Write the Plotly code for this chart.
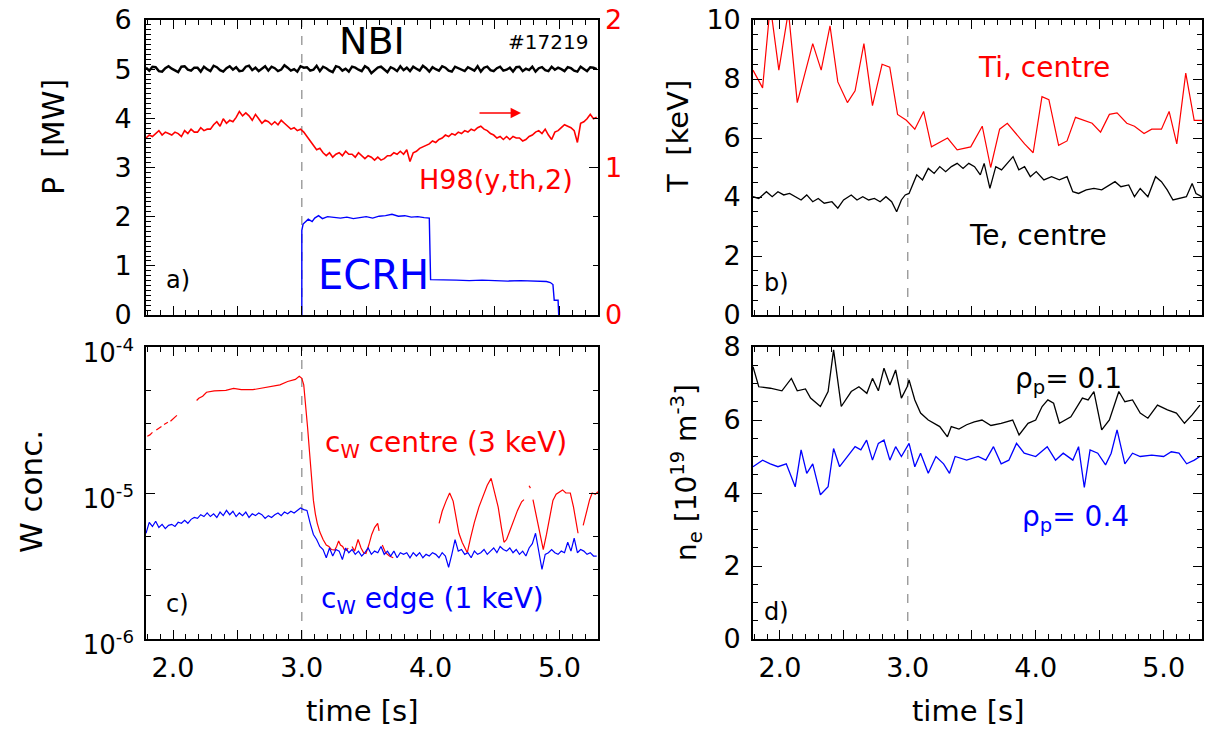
import plotly.graph_objects as go

# ---------------- data ----------------
# common 25 ms time base (sampling grid)
T25 = [round(1.79 + 0.025 * i, 3) for i in range(141)]

nbi_mw = [
    5.03, 4.97, 5.05, 5.04, 4.96, 4.95, 5.02, 5.06, 5.01, 4.97,
    4.94, 5.05, 5.06, 4.99, 4.97, 5.03, 5.03, 4.95, 5.05, 5.00,
    4.96, 5.07, 5.04, 4.98, 4.95, 5.02, 5.06, 4.99, 5.04, 4.96,
    4.97, 5.05, 5.07, 4.98, 5.03, 4.96, 5.01, 5.06, 4.97, 5.05,
    5.02, 4.96, 4.99, 5.08, 5.03, 4.97, 5.00, 4.95, 5.06, 5.03,
    5.04, 4.97, 4.99, 5.07, 4.96, 5.05, 5.02, 4.97, 4.94, 5.06,
    5.04, 4.97, 5.01, 4.95, 5.05, 5.03, 4.99, 4.96, 5.06, 5.02,
    4.92, 4.97, 5.03, 5.05, 4.99, 4.94, 5.04, 5.01, 4.96, 5.06,
    4.98, 5.03, 4.96, 5.05, 5.01, 4.97, 5.07, 5.02, 4.95, 5.04,
    5.00, 4.97, 5.06, 5.03, 4.97, 4.95, 5.05, 5.02, 4.98, 4.96,
    5.04, 5.01, 4.97, 5.06, 4.95, 5.03, 5.05, 4.98, 4.96, 5.02,
    5.05, 4.97, 4.99, 5.03, 4.95, 5.04, 5.05, 4.96, 5.01, 4.98,
    5.05, 4.95, 5.02, 5.04, 4.98, 4.96, 5.05, 4.99, 5.03, 5.00,
    4.96, 5.04, 5.02, 4.97, 4.95, 5.05, 5.01, 4.96, 5.04, 5.03,
    5.00]

h98 = [
    1.20, 1.22, 1.21, 1.23, 1.25, 1.22, 1.24, 1.23, 1.22, 1.24, 1.23, 1.21,
    1.25, 1.23, 1.26, 1.24, 1.24, 1.27, 1.25, 1.26, 1.26, 1.29, 1.31, 1.28,
    1.33, 1.30, 1.32, 1.31, 1.34, 1.38, 1.35, 1.37, 1.35, 1.32, 1.36, 1.33,
    1.30, 1.32, 1.31, 1.29, 1.31, 1.29, 1.32, 1.30, 1.28, 1.26, 1.27, 1.25,
    1.26, 1.24, 1.21, 1.18, 1.15, 1.12, 1.13, 1.10, 1.08, 1.10, 1.07, 1.09,
    1.10, 1.08, 1.11, 1.09, 1.09, 1.07, 1.10, 1.08, 1.06, 1.08, 1.07, 1.05,
    1.07, 1.05, 1.06, 1.08, 1.08, 1.10, 1.09, 1.11, 1.09, 1.12, 1.04, 1.10,
    1.11, 1.13, 1.14, 1.15, 1.16, 1.18, 1.17, 1.19, 1.20, 1.22, 1.21, 1.23,
    1.22, 1.24, 1.23, 1.25, 1.24, 1.26, 1.25, 1.27, 1.28, 1.26, 1.25, 1.23,
    1.22, 1.20, 1.21, 1.19, 1.21, 1.19, 1.21, 1.20, 1.20, 1.18, 1.19, 1.21,
    1.22, 1.24, 1.25, 1.23, 1.26, 1.22, 1.19, 1.24, 1.25, 1.27, 1.29, 1.28,
    1.27, 1.25, 1.17, 1.30, 1.31, 1.33, 1.36, 1.33, 1.34]

t_ecrh = [3.0, 3.0, 3.01, 3.03, 3.05, 3.08, 3.1, 3.13, 3.16, 3.2, 3.25, 3.3,
          3.35, 3.4, 3.45, 3.5, 3.55, 3.6, 3.65, 3.7, 3.75, 3.8, 3.85, 3.9,
          3.95, 3.99, 4.0, 4.05, 4.1, 4.2, 4.3, 4.4, 4.5, 4.6, 4.7, 4.8,
          4.85, 4.9, 4.93, 4.95, 4.96, 4.99, 4.995, 5.0]
p_ecrh = [0.0, 1.72, 1.85, 1.90, 1.95, 1.90, 1.97, 2.02, 1.96, 2.00, 1.98, 1.97,
          1.99, 1.96, 1.98, 2.00, 1.97, 2.01, 2.02, 2.05, 2.01, 2.02, 1.99, 2.00,
          1.98, 1.97, 0.72, 0.72, 0.71, 0.71, 0.70, 0.71, 0.70, 0.69, 0.70, 0.69,
          0.68, 0.68, 0.66, 0.62, 0.30, 0.30, 0.0, 0.0]

t_ti = [1.79, 1.865, 1.925, 1.992, 2.067, 2.136, 2.257, 2.323, 2.392, 2.453,
        2.528, 2.588, 2.657, 2.724, 2.799, 2.859, 2.920, 2.989, 3.055, 3.124,
        3.185, 3.311, 3.386, 3.492, 3.582, 3.648, 3.718, 3.778, 3.913, 3.980,
        4.049, 4.103, 4.179, 4.245, 4.311, 4.441, 4.507, 4.576, 4.636, 4.712,
        4.772, 4.847, 4.907, 4.983, 5.043, 5.103, 5.173, 5.239, 5.299]
ti_kev = [8.3, 7.7, 10.5, 8.3, 10.3, 7.2, 9.2, 8.3, 9.8, 7.9,
          7.2, 7.6, 9.2, 7.1, 8.5, 8.4, 6.8, 6.6, 6.3, 6.9,
          5.7, 6.0, 5.6, 5.7, 6.4, 5.0, 6.3, 6.5, 5.8, 5.5,
          7.4, 7.3, 5.75, 5.9, 6.7, 6.5, 6.2, 6.8, 6.85, 6.5,
          6.4, 6.15, 6.3, 6.3, 6.9, 5.8, 8.2, 6.6, 6.6]

t_te = [1.79, 1.835, 1.895, 1.94, 1.985, 2.03, 2.076, 2.12, 2.166, 2.21,
        2.257, 2.3, 2.347, 2.407, 2.453, 2.498, 2.558, 2.603, 2.648, 2.694,
        2.739, 2.784, 2.829, 2.874, 2.913, 2.95, 2.98, 3.01, 3.04, 3.07,
        3.115, 3.16, 3.206, 3.25, 3.296, 3.341, 3.386, 3.432, 3.477, 3.522,
        3.567, 3.597, 3.642, 3.688, 3.733, 3.778, 3.823, 3.868, 3.913, 3.958,
        4.004, 4.064, 4.124, 4.185, 4.245, 4.29, 4.335, 4.395, 4.455, 4.516,
        4.576, 4.62, 4.666, 4.727, 4.772, 4.817, 4.877, 4.937, 4.983, 5.028,
        5.073, 5.118, 5.178, 5.223, 5.253, 5.299]
te_kev = [4.01, 3.95, 4.18, 4.01, 4.18, 4.07, 4.12, 4.01, 3.90, 4.07,
          3.84, 3.95, 3.79, 3.84, 3.62, 3.90, 4.07, 3.90, 4.01, 3.90,
          3.95, 3.84, 4.01, 3.84, 3.50, 3.90, 4.07, 4.12, 4.46, 4.75,
          4.58, 4.97, 4.80, 5.03, 4.86, 5.03, 5.14, 4.97, 5.14, 5.03,
          4.75, 5.14, 4.29, 5.03, 4.92, 5.14, 5.37, 4.92, 5.03, 4.69,
          4.86, 4.58, 4.69, 4.58, 4.69, 4.18, 4.12, 4.24, 4.29, 4.24,
          4.41, 4.52, 4.35, 4.41, 4.01, 4.29, 4.01, 4.69, 4.52, 4.24,
          3.90, 3.95, 4.01, 4.46, 4.12, 4.01]

# W concentration, centre (None = no data)
t_cw_c = [1.80, 1.82, 1.84, None,
          1.87, 1.89, 1.91, None,
          1.93, 1.945, 1.96, None,
          1.98, 2.005, 2.03, None,
          2.183, 2.20, 2.23, 2.26, 2.32, 2.41, 2.47, 2.53, 2.62, 2.71, 2.77,
          2.83, 2.89, 2.95, 2.98,
          3.0, 3.015, 3.03, 3.045, 3.06, 3.075, 3.09, 3.105, 3.12, 3.14, 3.165,
          3.19, 3.21, 3.23, 3.256, 3.27, 3.286, 3.30, 3.317, 3.33, 3.347, 3.36, None,
          3.39, 3.41, 3.437, 3.46, 3.48, 3.498, 3.52, 3.543, 3.565, 3.589, 3.60, None,
          3.625, 3.65, 3.68, 3.71, None,
          4.066, 4.09, 4.12, 4.148, 4.175, 4.20, 4.22, 4.245, 4.27, 4.285, 4.31,
          4.34, 4.375, 4.41, 4.44, 4.47, 4.50, 4.525, 4.55, 4.57, 4.59, 4.62,
          4.645, 4.675, 4.707, 4.725, None,
          4.765, 4.775, None,
          4.795, 4.82, 4.845, 4.875, 4.90, 4.925, 4.95, 4.975, 5.0, 5.025, 5.05,
          5.085, 5.11, 5.13, 5.145, None,
          5.185, 5.21, 5.235, 5.255, 5.28, 5.30]
cw_c = [2.45e-5, 2.5e-5, 2.6e-5, None,
        2.7e-5, 2.78e-5, 2.85e-5, None,
        2.95e-5, 3.0e-5, 3.05e-5, None,
        3.1e-5, 3.25e-5, 3.4e-5, None,
        4.3e-5, 4.45e-5, 4.6e-5, 4.9e-5, 5.0e-5, 5.05e-5, 5.2e-5, 5.1e-5, 5.1e-5, 5.25e-5, 5.4e-5,
        5.5e-5, 5.8e-5, 6.0e-5, 6.3e-5,
        6.1e-5, 5.5e-5, 4.1e-5, 2.8e-5, 1.9e-5, 1.25e-5, 8.9e-6, 7.2e-6, 6.2e-6, 5.4e-6, 4.8e-6,
        4.4e-6, 4.3e-6, 4.1e-6, 4.07e-6, 4.3e-6, 4.7e-6, 4.4e-6, 4.3e-6, 4.1e-6, 4.05e-6, 4.2e-6, None,
        4.3e-6, 4.0e-6, 4.8e-6, 4.2e-6, 3.9e-6, 3.85e-6, 4.4e-6, 5.2e-6, 5.8e-6, 6.2e-6, 5.5e-6, None,
        4.4e-6, 3.9e-6, 3.7e-6, 3.6e-6, None,
        6.2e-6, 7.5e-6, 8.8e-6, 1.0e-5, 8.8e-6, 6.8e-6, 5.3e-6, 4.6e-6, 4.1e-6, 3.9e-6, 4.9e-6,
        6.3e-6, 8.0e-6, 9.8e-6, 1.13e-5, 1.26e-5, 1.0e-5, 8.0e-6, 5.8e-6, 4.6e-6, 4.8e-6, 5.7e-6,
        6.5e-6, 7.6e-6, 8.7e-6, 9.0e-6, None,
        1.12e-5, 1.08e-5, None,
        9.0e-6, 7.0e-6, 5.4e-6, 4.1e-6, 5.2e-6, 6.8e-6, 8.9e-6, 9.8e-6, 1.02e-5, 1.05e-5, 1.0e-5,
        1.0e-5, 8.0e-6, 6.3e-6, 5.3e-6, None,
        6.0e-6, 7.4e-6, 9.0e-6, 1.0e-5, 9.8e-6, 1.02e-5]

# W concentration, edge (units of 1e-6, on the 25 ms grid)
cw_e_1e6 = [
    5.3, 6.3, 5.9, 6.4, 5.8, 6.1, 5.7, 6.0, 6.1, 5.9, 6.3, 6.2,
    6.5, 6.2, 6.6, 6.8, 6.7, 7.1, 6.9, 7.3, 6.9, 7.2, 6.8, 7.4,
    7.0, 7.6, 7.1, 7.5, 6.9, 7.3, 7.0, 7.4, 6.8, 7.2, 7.0, 7.3,
    7.1, 6.7, 7.0, 6.8, 7.1, 7.3, 7.0, 7.4, 7.2, 7.5, 7.3, 7.6,
    7.9, 7.7, 7.6, 6.2, 5.2, 4.8, 4.3, 4.1, 3.6, 4.2, 3.7, 4.1,
    4.0, 3.5, 4.2, 3.9, 4.1, 3.8, 4.0, 3.7, 3.9, 4.2, 3.8, 4.0,
    3.9, 4.3, 3.8, 4.0, 3.7, 4.0, 3.6, 3.9, 3.8, 3.9, 3.6, 3.9,
    3.7, 3.9, 3.6, 3.8, 3.7, 3.9, 3.8, 3.6, 3.9, 3.7, 3.1, 3.8,
    4.8, 4.0, 4.1, 3.8, 3.9, 3.6, 4.0, 3.8, 3.9, 4.1, 3.8, 4.0,
    4.2, 3.9, 4.3, 4.1, 4.0, 4.2, 3.9, 4.1, 3.8, 4.0, 3.7, 4.2,
    4.5, 5.3, 3.9, 3.0, 3.8, 3.9, 4.1, 3.9, 3.8, 4.0, 3.9, 4.6,
    4.0, 4.9, 3.9, 4.1, 4.0, 3.8, 3.9, 3.7, 3.7]

t_ne1 = [1.79, 1.835, 1.925, 2.016, 2.09, 2.136, 2.20, 2.24, 2.317, 2.377,
         2.42, 2.48, 2.558, 2.618, 2.68, 2.724, 2.77, 2.814, 2.86, 2.905,
         2.95, 2.995, 3.01, 3.055, 3.10, 3.16, 3.25, 3.31, 3.34, 3.40,
         3.46, 3.52, 3.58, 3.65, 3.73, 3.82, 3.87, 3.94, 4.00, 4.05,
         4.095, 4.14, 4.185, 4.275, 4.365, 4.41, 4.455, 4.516, 4.576, 4.65,
         4.697, 4.757, 4.817, 4.877, 4.952, 5.03, 5.10, 5.163, 5.223, 5.284]
ne1 = [7.46, 6.91, 6.87, 6.80, 7.14, 6.80, 6.85, 6.60, 6.37, 6.78,
       7.92, 6.37, 6.78, 6.91, 6.73, 7.14, 6.80, 7.42, 6.96, 7.37,
       6.60, 6.91, 7.10, 6.55, 6.19, 6.00, 5.82, 5.54, 5.82, 5.75,
       5.87, 5.95, 6.00, 5.85, 5.91, 6.00, 5.59, 5.91, 6.00, 6.37,
       6.55, 6.46, 5.91, 6.09, 6.60, 6.55, 6.78, 5.73, 6.00, 6.78,
       6.50, 6.55, 6.19, 6.05, 6.41, 6.28, 6.19, 5.91, 6.14, 6.41]

t_ne4 = [1.79, 1.865, 1.925, 1.985, 2.05, 2.09, 2.12, 2.166, 2.21, 2.257,
         2.317, 2.377, 2.42, 2.467, 2.528, 2.588, 2.633, 2.678, 2.724, 2.77,
         2.814, 2.86, 2.905, 2.95, 3.01, 3.055, 3.10, 3.16, 3.22, 3.28,
         3.326, 3.37, 3.46, 3.55, 3.61, 3.67, 3.73, 3.79, 3.85, 3.91,
         4.00, 4.09, 4.155, 4.215, 4.29, 4.335, 4.38, 4.425, 4.485, 4.546,
         4.59, 4.636, 4.697, 4.757, 4.817, 4.907, 5.00, 5.06, 5.12, 5.18,
         5.24, 5.284]
ne4 = [4.72, 4.90, 4.80, 4.72, 4.80, 4.45, 4.17, 5.18, 4.54, 4.80,
       3.95, 4.17, 5.22, 4.72, 5.00, 5.27, 5.18, 5.45, 4.90, 5.36,
       5.45, 4.90, 5.27, 5.00, 5.36, 4.72, 5.09, 4.54, 5.00, 4.80,
       4.54, 5.00, 4.90, 5.00, 4.90, 5.27, 4.80, 4.90, 5.36, 5.09,
       5.00, 5.27, 4.90, 5.09, 4.90, 5.27, 4.15, 5.18, 5.09, 4.77,
       5.09, 5.73, 4.80, 5.09, 5.00, 5.04, 5.00, 5.13, 5.09, 4.80,
       4.90, 5.00]

# tick labels
x_major = [2.0, 2.5, 3.0, 3.5, 4.0, 4.5, 5.0]
x_labels = ["2.0", "", "3.0", "", "4.0", "", "5.0"]
log_major = [1e-6, 1e-5, 1e-4]
log_labels = ["10<sup>-6</sup>", "10<sup>-5</sup>", "10<sup>-4</sup>"]
t_switch = 3.0

# ---------------- styling ----------------
W, H = 1207, 731
FONT = "DejaVu Sans"
RED, BLUE, BLACK = "#ff0000", "#0000ff", "#000000"

def px(x):
    return x / W

def py(y):
    return 1 - y / H

XA = [px(146), px(598)]
XB = [px(753), px(1202)]
YT = [py(315), py(20)]
YB = [py(639), py(347)]

x_minor = [round(1.8 + 0.1 * i, 2) for i in range(36)]
x_minor = [v for v in x_minor if round(v * 2, 6) != round(v * 2)]

fig = go.Figure()

# panel a
fig.add_trace(go.Scatter(x=T25, y=nbi_mw, mode="lines", line=dict(color=BLACK, width=2.4),
                         xaxis="x", yaxis="y", showlegend=False))
fig.add_trace(go.Scatter(x=t_ecrh, y=p_ecrh, mode="lines", line=dict(color=BLUE, width=1.4),
                         xaxis="x", yaxis="y", showlegend=False))
fig.add_trace(go.Scatter(x=T25, y=h98, mode="lines", line=dict(color=RED, width=1.6),
                         xaxis="x", yaxis="y2", showlegend=False))
# panel b
fig.add_trace(go.Scatter(x=t_ti, y=ti_kev, mode="lines", line=dict(color=RED, width=1.2),
                         xaxis="x2", yaxis="y3", showlegend=False))
fig.add_trace(go.Scatter(x=t_te, y=te_kev, mode="lines", line=dict(color=BLACK, width=1.3),
                         xaxis="x2", yaxis="y3", showlegend=False))
# panel c
fig.add_trace(go.Scatter(x=t_cw_c, y=cw_c, mode="lines", line=dict(color=RED, width=1.2),
                         connectgaps=False, xaxis="x3", yaxis="y4", showlegend=False))
fig.add_trace(go.Scatter(x=T25, y=[v * 1e-6 for v in cw_e_1e6], mode="lines",
                         line=dict(color=BLUE, width=1.2), xaxis="x3", yaxis="y4", showlegend=False))
# panel d
fig.add_trace(go.Scatter(x=t_ne1, y=ne1, mode="lines", line=dict(color=BLACK, width=1.3),
                         xaxis="x4", yaxis="y5", showlegend=False))
fig.add_trace(go.Scatter(x=t_ne4, y=ne4, mode="lines", line=dict(color=BLUE, width=1.3),
                         xaxis="x4", yaxis="y5", showlegend=False))

tickfont = dict(family=FONT, size=27, color=BLACK)
frame = dict(showline=True, linecolor=BLACK, linewidth=1.6, showgrid=False, zeroline=False,
             ticks="inside", tickcolor=BLACK, tickwidth=1.4, automargin=False)

def xaxis(domain, anchor, labels):
    return dict(frame, domain=domain, anchor=anchor, range=[1.79, 5.30], mirror="ticks",
                tickmode="array", tickvals=x_major, ticktext=x_labels, ticklen=9,
                showticklabels=labels, tickfont=tickfont, ticklabelstandoff=4,
                minor=dict(tickmode="array", tickvals=x_minor, ticklen=5, ticks="inside",
                           tickcolor=BLACK, tickwidth=1.2))

def lin_minor(lo, hi, step):
    n = int(round((hi - lo) / step))
    return [round(lo + step * i, 4) for i in range(n + 1)]

fig.update_layout(
    width=W, height=H, margin=dict(l=0, r=0, t=0, b=0, pad=0), autosize=False,
    paper_bgcolor="white", plot_bgcolor="white",
    font=dict(family=FONT, color=BLACK),
    xaxis=xaxis(XA, "y", False),
    xaxis2=xaxis(XB, "y3", False),
    xaxis3=xaxis(XA, "y4", True),
    xaxis4=xaxis(XB, "y5", True),
    yaxis=dict(frame, domain=YT, anchor="x", range=[0, 6], mirror=True,
               tickmode="array", tickvals=[0, 1, 2, 3, 4, 5, 6], ticklen=9, tickfont=tickfont,
               ticklabelstandoff=7,
               minor=dict(tickmode="array", tickvals=lin_minor(0, 6, 0.1), ticklen=5,
                          ticks="inside", tickcolor=BLACK, tickwidth=1.2)),
    yaxis2=dict(frame, overlaying="y", side="right", anchor="x", range=[0, 2], showline=False,
                tickmode="array", tickvals=[0, 1, 2], ticklen=9, ticklabelstandoff=6,
                tickfont=dict(family=FONT, size=27, color=RED),
                minor=dict(tickmode="array", tickvals=[1 / 3, 2 / 3, 4 / 3, 5 / 3], ticklen=5,
                           ticks="inside", tickcolor=BLACK, tickwidth=1.2)),
    yaxis3=dict(frame, domain=YT, anchor="x2", range=[0, 10], mirror="ticks",
                tickmode="array", tickvals=[0, 2, 4, 6, 8, 10], ticklen=9, tickfont=tickfont,
                ticklabelstandoff=5,
                minor=dict(tickmode="array", tickvals=lin_minor(0, 10, 0.5), ticklen=5,
                           ticks="inside", tickcolor=BLACK, tickwidth=1.2)),
    yaxis4=dict(frame, domain=YB, anchor="x3", type="log", range=[-6, -4], mirror="ticks",
                tickmode="array", tickvals=log_major, ticktext=log_labels, ticklen=9,
                tickfont=dict(family=FONT, size=26, color=BLACK), ticklabelshift=6,
                ticklabelstandoff=5,
                minor=dict(tickmode="array", tickvals=[2e-6, 3e-6, 5e-6, 2e-5, 3e-5, 5e-5],
                           ticklen=5, ticks="inside", tickcolor=BLACK, tickwidth=1.2)),
    yaxis5=dict(frame, domain=YB, anchor="x4", range=[0, 8], mirror="ticks",
                tickmode="array", tickvals=[0, 2, 4, 6, 8], ticklen=9, tickfont=tickfont,
                ticklabelstandoff=5,
                minor=dict(tickmode="array", tickvals=lin_minor(0, 8, 0.5), ticklen=5,
                           ticks="inside", tickcolor=BLACK, tickwidth=1.2)),
)

# dashed switch-off line at t = 3.0 s
for xr, yr in [("x", "y"), ("x2", "y3"), ("x3", "y4"), ("x4", "y5")]:
    fig.add_shape(type="line", xref=xr, yref=yr + " domain", x0=t_switch, x1=t_switch,
                  y0=0, y1=1, line=dict(color="#888888", width=1.2, dash="dash"), layer="below")

def note(text, x, y, size=27, color=BLACK, xanchor="center", angle=0):
    fig.add_annotation(text=text, x=px(x), y=py(y), xref="paper", yref="paper",
                       showarrow=False, xanchor=xanchor, yanchor="middle", textangle=angle,
                       font=dict(family=FONT, size=size, color=color))

note("NBI", 372, 41, size=38)
note("#17219", 548, 42, size=20)
note("H98(y,th,2)", 496, 180, size=27, color=RED)
note("ECRH", 373, 275, size=40, color=BLUE)
note("a)", 178, 280, size=24)
note("Ti, centre", 1044, 68, size=28, color=RED)
note("Te, centre", 1038, 235, size=28)
note("b)", 777, 283, size=24)
note("c<sub>W</sub> centre (3 keV)", 323, 444, size=28, color=RED, xanchor="left")
note("c<sub>W</sub> edge (1 keV)", 319, 600, size=28, color=BLUE, xanchor="left")
note("c)", 177, 604, size=24)
note("ρ<sub>p</sub>= 0.1", 1013, 380, size=28, xanchor="left")
note("ρ<sub>p</sub>= 0.4", 1020, 518, size=28, color=BLUE, xanchor="left")
note("d)", 777, 612, size=24)
note("time [s]", 362, 711, size=29)
note("time [s]", 968, 711, size=29)
note("P  [MW]", 53, 137, size=30, angle=-90)
note("T  [keV]", 678, 137, size=29, angle=-90)
note("W conc.", 31, 492, size=31, angle=-90)
note("n<sub>e</sub> [10<sup>19</sup> m<sup>-3</sup>]", 686, 473, size=28, angle=-90)

# arrow pointing to the right-hand H98 axis
fig.add_annotation(x=px(521), y=py(113), xref="paper", yref="paper", text="", showarrow=True,
                   ax=-43, ay=0, arrowhead=2, arrowsize=1.3, arrowwidth=1.6, arrowcolor=RED)

# the page body must not add its default 8 px margin around the fixed-size figure
fig.write_html("out.html", config={"displayModeBar": False},
               post_script="document.body.style.margin='0';document.body.style.overflow='hidden';")
